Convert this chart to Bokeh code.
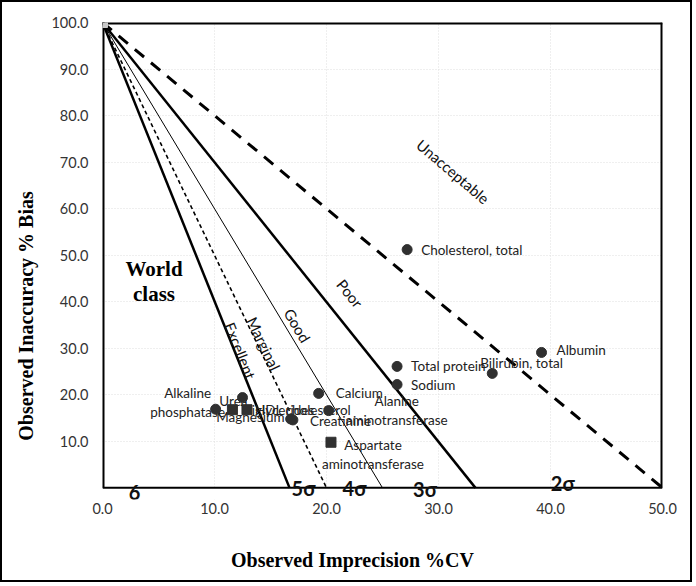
from bokeh.plotting import figure
from bokeh.models import ColumnDataSource, Range1d, FixedTicker, NumeralTickFormatter
from bokeh.core.properties import value
from bokeh.embed import file_html
from bokeh.resources import INLINE

# ---- data ----
sigma_names = ["6", "5σ", "4σ", "3σ", "2σ"]
cv_intercepts = [16.7, 20.0, 25.0, 33.3, 50.0]   # %CV where each sigma line meets bias = 0
bias_origin = 100.0

analytes = ["Cholesterol, total", "Albumin", "Bilirubin, total", "Total protein", "Sodium",
            "Calcium", "Alanine\naminotransferase", "Creatinine", "Magnesium", "Urea",
            "Alkaline\nphosphatase", "Triglycerides", "HDL cholesterol", "Aspartate\naminotransferase"]
cv_obs = [27.2, 39.2, 34.8, 26.3, 26.3, 19.3, 20.2, 17.0, 16.8, 12.5, 10.1, 11.6, 12.9, 20.4]
bias_obs = [51.2, 29.1, 24.6, 26.1, 22.2, 20.3, 16.6, 14.6, 14.8, 19.4, 16.9, 16.8, 16.8, 9.8]
markers = ["circle"] * 11 + ["square", "square", "square"]

region_names = ["Excellent", "Marginal", "Good", "Poor", "Unacceptable"]

x_ticks = [0, 10, 20, 30, 40, 50]
y_ticks = [10, 20, 30, 40, 50, 60, 70, 80, 90, 100]
x_lim = [0, 50]
y_lim = [0, 100]

x_title = "Observed Imprecision %CV"
y_title = "Observed Inaccuracy % Bias"

# ---- styling / placement (not data) ----
NBSP = "\u00a0"
x_title_pad = 12   # shifts the x title left of the frame centre, as in the original
y_title_pad = 22   # shifts the y title below the frame centre, as in the original

label_dx = [14, 15, -12, 14, 14, 17, 68, 17, -6, 5, -28, 8, 8, 42]
label_dy = [0, -2, -10, 0, 0, 0, 0, 1, -2, 3, -7, 0, 0, 12]
label_align = ["left", "left", "left", "left", "left", "left", "center", "left", "right",
               "right", "center", "left", "left", "center"]

region_x = [12.3, 14.4, 17.4, 22.1, 31.3]
region_y = [29.5, 31.0, 34.9, 41.8, 68.0]
region_angle = [-68.2, -64.3, -59.0, -51.3, -40.5]

sigma_lx = [2.86, 17.95, 22.5, 28.8, 41.1]
sigma_ly = [-1.1, -0.1, -0.1, -0.3, 1.0]

line_styles = [
    dict(line_width=2.5, line_dash="solid"),
    dict(line_width=1.6, line_dash="4 3"),
    dict(line_width=1.0, line_dash="solid"),
    dict(line_width=2.5, line_dash="solid"),
    dict(line_width=3.0, line_dash="12 9"),
]

SANS = "Lato"
SERIF = "Liberation Serif"
Y_PAD = 2.5  # room below the x axis line for the sigma labels

p = figure(width=692, height=582, x_range=Range1d(x_lim[0], x_lim[1]),
           y_range=Range1d(y_lim[0] - Y_PAD, y_lim[1]),
           output_backend="svg", toolbar_location=None,
           min_border_left=100, min_border_right=32, min_border_top=20, min_border_bottom=85)
p.styles = {"border": "2px solid black"}

p.outline_line_color = None
p.background_fill_color = "white"
p.border_fill_color = "white"

p.xgrid.grid_line_color = "#dedede"
p.ygrid.grid_line_color = "#dedede"
p.xgrid.grid_line_dash = "1 2"
p.ygrid.grid_line_dash = "1 2"
p.xgrid.ticker = FixedTicker(ticks=x_ticks)
p.ygrid.ticker = FixedTicker(ticks=y_ticks)

for ax in (p.xaxis[0], p.yaxis[0]):
    ax.axis_line_color = None
    ax.major_tick_line_color = None
    ax.minor_tick_line_color = None
    ax.major_tick_out = 0
    ax.major_tick_in = 0
    ax.minor_tick_out = 0
    ax.major_label_text_font = SANS
    ax.major_label_text_font_size = "14.5px"
    ax.major_label_text_color = "#333333"
    ax.formatter = NumeralTickFormatter(format="0.0")
    ax.axis_label_text_font = SERIF
    ax.axis_label_text_font_style = "bold"
    ax.axis_label_text_font_size = "20px"
    ax.axis_label_text_color = "black"

p.xaxis.ticker = FixedTicker(ticks=x_ticks)
p.yaxis.ticker = FixedTicker(ticks=y_ticks)
p.xaxis.axis_label = x_title + NBSP * x_title_pad
p.yaxis.axis_label = y_title + NBSP * y_title_pad
p.xaxis.major_label_standoff = 3
p.yaxis.major_label_standoff = 14
p.xaxis.axis_label_standoff = 32
p.yaxis.axis_label_standoff = 11

# white strip below the x axis line (hides grid stubs)
p.quad(left=[x_lim[0]], right=[x_lim[1]], bottom=[y_lim[0] - Y_PAD], top=[y_lim[0]],
       fill_color="white", line_color=None)

# plot box: axes lines and top/right border
p.line(x=[x_lim[0], x_lim[1]], y=[y_lim[0], y_lim[0]], line_color="black", line_width=2)
p.line(x=[x_lim[0], x_lim[0]], y=[y_lim[0], y_lim[1]], line_color="black", line_width=4)
p.line(x=[x_lim[0], x_lim[1]], y=[y_lim[1], y_lim[1]], line_color="black", line_width=4)
p.line(x=[x_lim[1], x_lim[1]], y=[y_lim[0], y_lim[1]], line_color="black", line_width=4)

# sigma lines
for xi, st in zip(cv_intercepts, line_styles):
    p.line(x=[0, xi], y=[bias_origin, 0], line_color="black", **st)

# origin marker
p.scatter(x=[0], y=[bias_origin], marker="square", size=10, fill_color="#c8c8c8",
          line_color="#c8c8c8")

# region labels
rsrc = ColumnDataSource(dict(x=region_x, y=region_y, t=region_names, a=region_angle))
p.text(x="x", y="y", text="t", angle="a", angle_units="deg", source=rsrc,
       text_font=value(SANS), text_font_size="15px", text_color="#111111",
       text_align="center", text_baseline="middle")

p.text(x=[4.6], y=[44.3], text=["World\nclass"], text_font=value(SERIF),
       text_font_style="bold", text_font_size="21px", text_color="black",
       text_align="center", text_baseline="middle", text_line_height=1.05)

# analyte labels
lsrc = ColumnDataSource(dict(x=cv_obs, y=bias_obs, t=analytes, dx=label_dx, dy=label_dy,
                             al=label_align))
p.text(x="x", y="y", text="t", x_offset="dx", y_offset="dy", text_align="al", source=lsrc,
       text_font=value(SANS), text_font_size="13.5px", text_color="#222222",
       text_baseline="middle", text_line_height=1.2)

# points
psrc = ColumnDataSource(dict(x=cv_obs, y=bias_obs, m=markers))
p.scatter(x="x", y="y", marker="m", source=psrc, size=10, fill_color="#303030",
          line_color="#303030")

# sigma labels
ssrc = ColumnDataSource(dict(x=sigma_lx, y=sigma_ly, t=sigma_names))
p.text(x="x", y="y", text="t", source=ssrc, text_font=value(SANS), text_font_style="bold",
       text_font_size="20px", text_color="#111111", text_align="center",
       text_baseline="middle")

open("out.html", "w").write(file_html(p, INLINE))
